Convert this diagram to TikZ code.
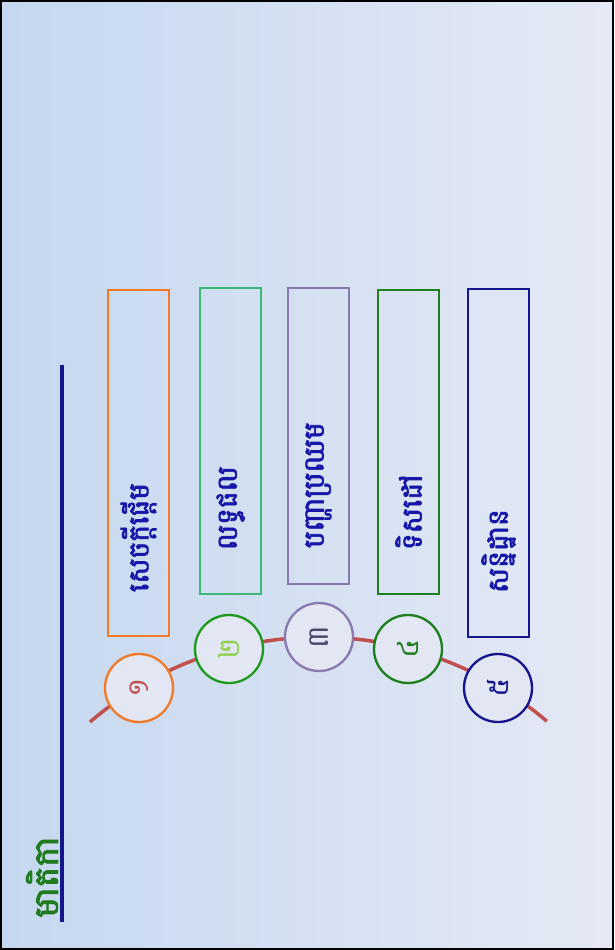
\documentclass[tikz,border=0pt]{standalone}
\usepackage{fontspec}
\newfontfamily\khmerfont[Script=Khmer]{Battambang}
\newfontfamily\khmerbold[Script=Khmer, FakeBold=2.5]{Battambang}
\definecolor{bgleft}{HTML}{C5D8EF}
\definecolor{bgright}{HTML}{E5E9F5}
\definecolor{circfill}{HTML}{E2E7F3}
\definecolor{itemblue}{HTML}{1616A8}
\definecolor{titlegreen}{HTML}{1E7B1E}
\definecolor{arcred}{HTML}{C0504D}
\definecolor{oneorange}{HTML}{F07A28}
\definecolor{twogreen}{HTML}{3CB878}
\definecolor{twocirc}{HTML}{1E9A1E}
\definecolor{twodigit}{HTML}{92D050}
\definecolor{threepurple}{HTML}{8A7AB0}
\definecolor{threedigit}{HTML}{4B4B6B}
\definecolor{fourgreen}{HTML}{1E7F1E}
\definecolor{fivenavy}{HTML}{15158C}
\tikzset{%
  % Specifications for style of nodes:
       base/.style = {rectangle, line width=1.5pt, rotate=90,
                      minimum height=1.83cm, inner xsep=1.32cm, inner ysep=0pt,
                      align=left, text=itemblue,
                      font=\khmerbold\fontsize{24}{28}\selectfont},
       numb/.style = {circle, line width=2pt, minimum size=2.04cm, inner sep=0pt,
                      fill=circfill, rotate=90,
                      font=\khmerfont\fontsize{25}{30}\selectfont},
      title/.style = {rotate=90, text=titlegreen,
                      font=\khmerbold\fontsize{29}{34}\selectfont},
}

\begin{document}
\begin{tikzpicture}[x=0.03cm, y=-0.03cm]
  \useasboundingbox (0,0) rectangle (614,950);
  % background and frame
  \shade[left color=bgleft, right color=bgright] (0,0) rectangle (614,950);
  \draw[line width=1.5pt] (1,1) rectangle (613,949);

  % title with its rule
  \node (head) [title] at (42,877) {មាតិកា};
  \coordinate (ruletop) at (62,365);
  \coordinate (rulebot) at (62,922);
  \draw[fivenavy, line width=3pt] (ruletop) -- (rulebot);

  % arc behind the numbers
  \coordinate (arcstart) at (90,722);
  \draw[arcred, line width=3pt] (arcstart) arc[start angle=-130.7, end angle=-49.5, radius=351];

  % Specification of nodes (position, etc.)
  \node (intro) [base, draw=oneorange, minimum width=10.38cm, text width=7.74cm] at (138.5,463) {សេចក្តីផ្តើម};
  \node (result) [base, draw=twogreen, minimum width=9.18cm, text width=6.54cm] at (230.5,441) {លទ្ធផល};
  \node (challenge) [base, draw=threepurple, minimum width=8.88cm, text width=6.72cm, inner xsep=1.08cm] at (318.5,436) {បញ្ហាប្រឈម};
  \node (goal) [base, draw=fourgreen, minimum width=9.12cm, text width=6.48cm] at (408.5,442) {ទិសដៅ};
  \node (concl) [base, draw=fivenavy, minimum width=10.44cm, text width=7.8cm] at (498.5,463) {សន្និដ្ឋាន};

  \node (one) [numb, draw=oneorange, text=arcred] at (139,688) {១};
  \node (two) [numb, draw=twocirc, text=twodigit] at (229,649) {២};
  \node (three) [numb, draw=threepurple, text=threedigit] at (319,637) {៣};
  \node (four) [numb, draw=fourgreen, text=fourgreen] at (408,649) {៤};
  \node (five) [numb, draw=fivenavy, text=fivenavy] at (498,688) {៥};
\end{tikzpicture}
\end{document}
